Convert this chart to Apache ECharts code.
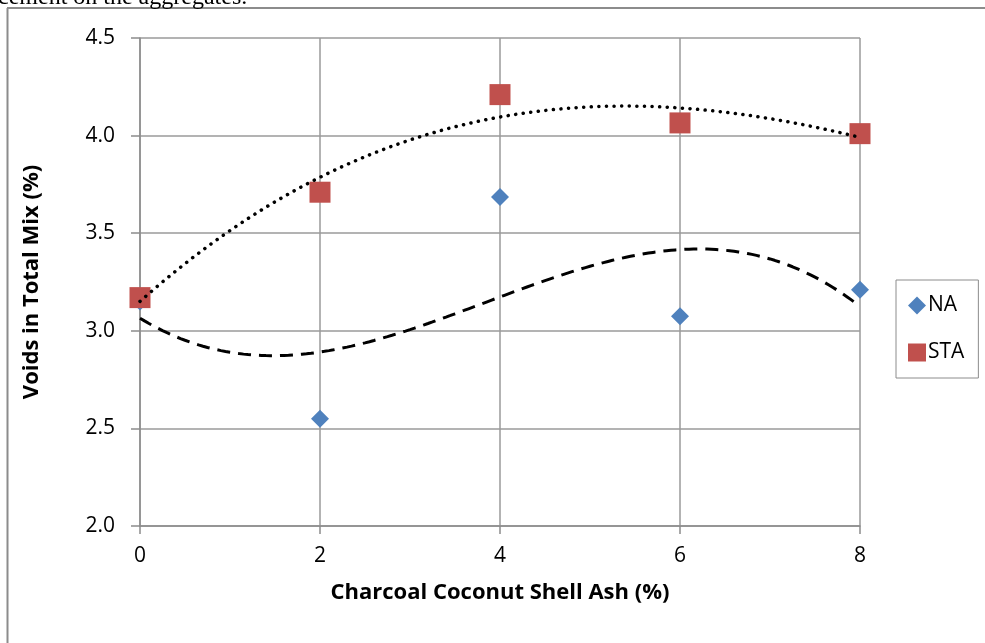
<!DOCTYPE html>
<html>
<head>
<meta charset="utf-8">
<script src="https://cdn.jsdelivr.net/npm/echarts@6/dist/echarts.min.js"></script>
<style>
html,body{margin:0;padding:0;background:#fff;}
#c{width:985px;height:643px;}
</style>
</head>
<body>
<div id="c"></div>
<script>
// ---- data ----
var ashPercent = [0, 2, 4, 6, 8];
var naValues   = [3.15, 2.55, 3.685, 3.075, 3.21];
var staValues  = [3.17, 3.71, 4.21, 4.065, 4.01];
var yTicks = [2.0, 2.5, 3.0, 3.5, 4.0, 4.5];
var xTicks = [0, 2, 4, 6, 8];

// cubic least-squares trendline (like Excel polynomial order 3)
function cubicFit(xs, ys) {
  var n = 4, A = [], i, j, k;
  for (i = 0; i < n; i++) {
    A.push([]);
    for (j = 0; j < n; j++) {
      var s = 0;
      for (k = 0; k < xs.length; k++) s += Math.pow(xs[k], i + j);
      A[i].push(s);
    }
    var b = 0;
    for (k = 0; k < xs.length; k++) b += ys[k] * Math.pow(xs[k], i);
    A[i].push(b);
  }
  for (i = 0; i < n; i++) {
    var p = i;
    for (j = i + 1; j < n; j++) if (Math.abs(A[j][i]) > Math.abs(A[p][i])) p = j;
    var t = A[i]; A[i] = A[p]; A[p] = t;
    for (j = i + 1; j < n; j++) {
      var f = A[j][i] / A[i][i];
      for (k = i; k <= n; k++) A[j][k] -= f * A[i][k];
    }
  }
  var c = [0, 0, 0, 0];
  for (i = n - 1; i >= 0; i--) {
    var s2 = A[i][n];
    for (j = i + 1; j < n; j++) s2 -= A[i][j] * c[j];
    c[i] = s2 / A[i][i];
  }
  return c;
}
function trend(xs, ys) {
  var c = cubicFit(xs, ys), out = [];
  var x0 = xs[0], x1 = xs[xs.length - 1];
  for (var i = 0; i <= 160; i++) {
    var x = x0 + (x1 - x0) * i / 160;
    out.push([x, c[0] + c[1] * x + c[2] * x * x + c[3] * x * x * x]);
  }
  return out;
}

var naPts = ashPercent.map(function (x, i) { return [x, naValues[i]]; });
var staPts = ashPercent.map(function (x, i) { return [x, staValues[i]]; });

var chart = echarts.init(document.getElementById('c'));
var font = '"Open Sans", "Noto Sans", sans-serif';
chart.setOption({
  animation: false,
  backgroundColor: '#fff',
  textStyle: { fontFamily: font },
  grid: { left: 140, top: 38, width: 720, height: 488, containLabel: false },
  xAxis: {
    type: 'value', min: 0, max: 8, interval: 2,
    name: 'Charcoal Coconut Shell Ash (%)', nameLocation: 'middle', nameGap: 56,
    nameTextStyle: { fontSize: 22, fontWeight: 'bold', color: '#000', fontFamily: font },
    axisLine: { show: true, lineStyle: { color: '#8c8c8c', width: 1.5 } },
    axisTick: { show: true, length: 8, lineStyle: { color: '#8c8c8c', width: 1.5 } },
    axisLabel: { fontSize: 21, color: '#000', margin: 20, fontFamily: font,
      formatter: function (v) { return xTicks.indexOf(v) >= 0 ? String(v) : ''; } },
    splitLine: { show: true, lineStyle: { color: '#9a9a9a', width: 1.5 } }
  },
  yAxis: {
    type: 'value', min: 2.0, max: 4.5, interval: 0.5,
    name: 'Voids in Total Mix (%)', nameLocation: 'middle', nameGap: 97,
    nameTextStyle: { fontSize: 22, fontWeight: 'bold', color: '#000', fontFamily: font },
    axisLine: { show: true, lineStyle: { color: '#8c8c8c', width: 1.5 } },
    axisTick: { show: true, length: 9, lineStyle: { color: '#8c8c8c', width: 1.5 } },
    axisLabel: { fontSize: 21, color: '#000', margin: 25, fontFamily: font,
      formatter: function (v) { return yTicks.indexOf(Math.round(v * 10) / 10) >= 0 ? v.toFixed(1) : ''; } },
    splitLine: { show: true, lineStyle: { color: '#9a9a9a', width: 1.5 } }
  },
  legend: {
    data: ['NA', 'STA'], orient: 'vertical', left: 896, top: 280,
    padding: [15, 14, 15, 12], itemWidth: 18, itemHeight: 18, itemGap: 26,
    borderColor: '#8c8c8c', borderWidth: 1, backgroundColor: '#fff',
    textStyle: { fontSize: 21, color: '#000', fontFamily: font, padding: [0, 0, 0, -3] }
  },
  series: [
    { name: 'NA trend', type: 'line', data: trend(ashPercent, naValues), showSymbol: false, symbol: 'none',
      smooth: false, lineStyle: { color: '#000', width: 3, type: [13, 8] }, z: 3, silent: true },
    { name: 'STA trend', type: 'line', data: trend(ashPercent, staValues), showSymbol: false, symbol: 'none',
      smooth: false, lineStyle: { color: '#000', width: 3.5, type: [0.1, 7.5], cap: 'round' }, z: 4, silent: true },
    { name: 'NA', type: 'scatter', data: naPts, symbol: 'diamond', symbolSize: [18, 18],
      itemStyle: { color: '#4F81BD', opacity: 1 }, z: 2 },
    { name: 'STA', type: 'scatter', data: staPts, symbol: 'rect', symbolSize: 21,
      itemStyle: { color: '#C0504D', opacity: 1 }, z: 3 }
  ],
  graphic: [
    { type: 'line', shape: { x1: 7, y1: 8, x2: 985, y2: 8 }, style: { stroke: '#8c8c8c', lineWidth: 2 } },
    { type: 'line', shape: { x1: 7.5, y1: 8, x2: 7.5, y2: 643 }, style: { stroke: '#8c8c8c', lineWidth: 2 } },
    { type: 'text', left: -2, top: -14, style: { text: 'cement on the aggregates.', font: '24px "Liberation Serif", serif', fill: '#000' } }
  ]
});
</script>
</body>
</html>
